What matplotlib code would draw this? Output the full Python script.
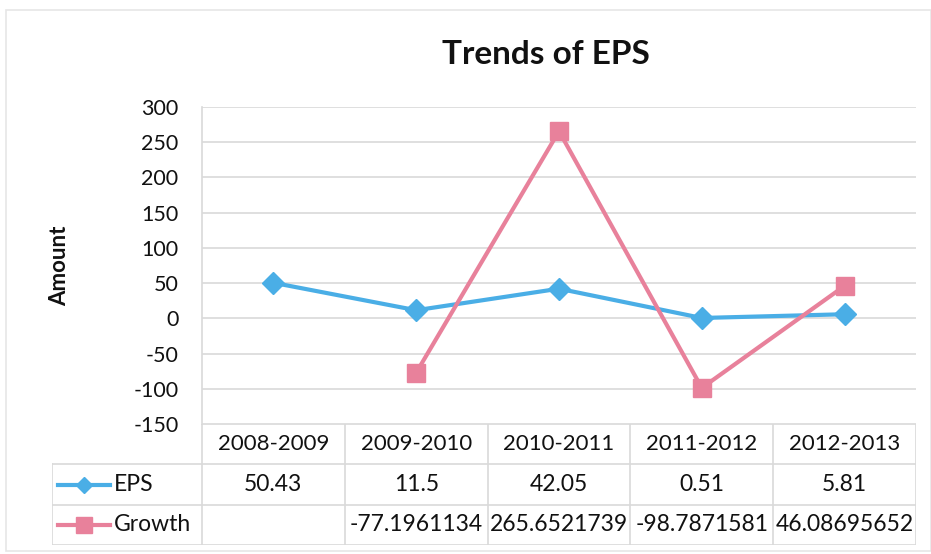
import numpy as np
import matplotlib
matplotlib.use('Agg')
from matplotlib import pyplot as plt
from matplotlib.patches import Rectangle

# yearly figures for the EPS trend chart
years = ['2008-2009', '2009-2010', '2010-2011', '2011-2012', '2012-2013']
eps = [50.43, 11.5, 42.05, 0.51, 5.81]
growth = [None, -77.1961134, 265.6521739, -98.7871581, 46.08695652]
y_ticks = [-150, -100, -50, 0, 50, 100, 150, 200, 250, 300]

EPS_COLOR = '#4aaee6'
GROWTH_COLOR = '#e8819b'
GRID_COLOR = '#d9d9d9'
TEXT_COLOR = '#111111'
FONT = 'Lato'

W, H = 931, 554


def fx(px):
    return px / W


def fy(py):
    return 1 - py / H


def to_float(vals):
    return np.array([np.nan if v is None else v for v in vals], dtype=float)


def fmt(v):
    return '' if v is None else str(v)


def main():
    plt.rcParams['font.family'] = [FONT, 'DejaVu Sans']
    plt.rcParams['axes.unicode_minus'] = False
    fig = plt.figure(figsize=(W / 100, H / 100), dpi=100)

    # outer chart border
    fig.patches.append(Rectangle((fx(6), fy(551)), fx(W - 6), fy(10) - fy(551),
                                 transform=fig.transFigure, fill=False,
                                 edgecolor='#e6e6e6', linewidth=1.2))

    left, right, top, bottom = 202, 916, 107, 424
    ax = fig.add_axes([fx(left), fy(bottom), fx(right - left), fy(top) - fy(bottom)])
    x = np.arange(len(years))
    ax.plot(x, to_float(eps), color=EPS_COLOR, lw=3, marker='D', ms=11,
            zorder=3, solid_capstyle='round')
    ax.plot(x, to_float(growth), color=GROWTH_COLOR, lw=3, marker='s', ms=13,
            zorder=3, solid_capstyle='round')
    ax.set_xlim(-0.5, len(years) - 0.5)
    ax.set_ylim(y_ticks[0], y_ticks[-1])
    ax.set_yticks(y_ticks)
    ax.set_xticks([])
    ax.tick_params(axis='y', length=0, pad=17, labelsize=15.5, labelcolor=TEXT_COLOR)
    ax.grid(axis='y', color=GRID_COLOR, lw=1.2)
    ax.set_axisbelow(True)
    for side in ['top', 'right', 'bottom']:
        ax.spines[side].set_visible(False)
    ax.spines['left'].set_color(GRID_COLOR)
    ax.spines['left'].set_linewidth(1.2)

    fig.text(fx(546), fy(55), 'Trends of EPS', ha='center', va='center',
             fontsize=24, fontweight='bold', color=TEXT_COLOR)
    fig.text(fx(60), fy(266), 'Amount', rotation=90, ha='center', va='center',
             fontsize=16, fontweight='bold', color=TEXT_COLOR)

    # data table under the plot, columns lined up with the categories
    t_left, t_bottom = 52, 545
    col_w = (right - left) / len(years)
    lab_w = (left - t_left) / col_w
    tax = fig.add_axes([fx(t_left), fy(t_bottom), fx(right - t_left), fy(bottom) - fy(t_bottom)])
    tax.set_xlim(-0.5 - lab_w, len(years) - 0.5)
    tax.set_ylim(3, 0)
    tax.axis('off')
    x0 = -0.5 - lab_w
    xe = len(years) - 0.5
    lc = dict(color=GRID_COLOR, lw=1.2)
    tax.plot([-0.5, xe], [0, 0], **lc)
    for r in (1, 2, 3):
        tax.plot([x0, xe], [r, r], **lc)
    for i in range(len(years) + 1):
        tax.plot([i - 0.5, i - 0.5], [0, 3], **lc)
    tax.plot([x0, x0], [1, 3], **lc)

    fs = 16.5
    for i, yr in enumerate(years):
        tax.text(i, 0.5, yr, ha='center', va='center', fontsize=fs - 0.5, color=TEXT_COLOR)
        tax.text(i, 1.5, fmt(eps[i]), ha='center', va='center', fontsize=fs, color=TEXT_COLOR)
        tax.text(i, 2.5, fmt(growth[i]), ha='center', va='center', fontsize=fs, color=TEXT_COLOR)

    def px2x(px):
        return (px - left) / col_w - 0.5

    rows = [('EPS', EPS_COLOR, 'D', 8, 1.5), ('Growth', GROWTH_COLOR, 's', 11, 2.5)]
    for name, color, mk, ms, yc in rows:
        tax.plot([px2x(58), px2x(110)], [yc, yc], color=color, lw=3)
        tax.plot([px2x(84)], [yc], color=color, marker=mk, ms=ms, lw=0)
        tax.text(px2x(114), yc, name, ha='left', va='center', fontsize=fs, color=TEXT_COLOR)

    fig.savefig('out.png', dpi=100)


if __name__ == '__main__':
    main()
